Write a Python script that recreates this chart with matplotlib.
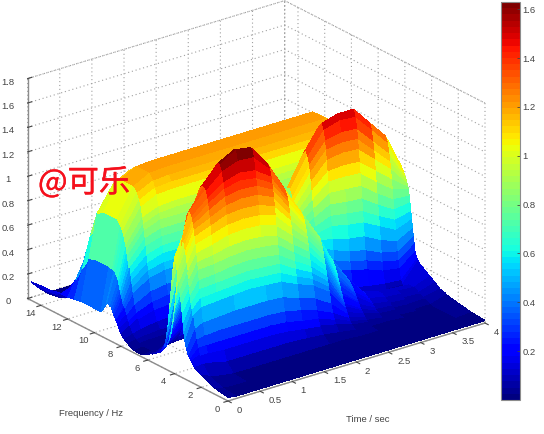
import matplotlib
matplotlib.use("Agg")
import matplotlib.pyplot as plt
import matplotlib.patheffects as pe
import numpy as np
from matplotlib.cm import ScalarMappable
from matplotlib.colors import Normalize
from mpl_toolkits.mplot3d import proj3d

# values
time_s = [0, .125, .25, .5, .75, 1, 1.25, 1.5, 1.75, 2, 2.25, 2.5, 2.75, 3, 3.25, 3.5, 3.75, 4]
freq_hz = [0, 1, 2, 2.5,
           2.75, 2.875, 3, 3.125,
           3.25, 3.3125, 3.375, 3.4375, 3.5, 3.5625, 3.625, 3.6875, 3.75, 3.8125, 3.875, 3.9375, 4,
           4.125, 4.25, 4.375, 4.5, 4.625, 4.75, 4.875, 5, 5.125,
           5.25, 5.3125, 5.375, 5.4375, 5.5, 5.5625, 5.625, 5.6875, 5.75, 5.8125, 5.875, 5.9375, 6,
           6.125, 6.25, 6.375, 6.5, 6.625, 6.75,
           7, 7.25, 7.5, 7.75,
           8, 8.125, 8.25,
           8.375, 8.4375, 8.5, 8.5625, 8.625, 8.6875, 8.75, 8.8125, 8.875,
           9, 9.125, 9.25,
           9.5, 10.5, 11, 11.5, 12, 12.5, 13, 13.5, 14, 14.75]
# one row per time value, one column per frequency value
amplitude = [
    [.03, .05, .10, .13, .17, .19, .21, .26,
     .32, .39, .46, .53, .60, .66, .72, .77, .82, .86, .90, .93, .95,
     .84, .68, .51, .36, .26, .18, .15, .13, .11,
     .10, .10, .09, .09, .08, .08, .07, .07, .07, .06, .06, .05, .05,
     .04, .03, .02, .02, .02, .02, .02, .03, .05, .07, .10, .13, .16,
     .19, .20, .22, .23, .25, .26, .28, .28, .29,
     .30, .28, .25, .20, .20, .20, .19, .18, .18, .17, .16, .16, .15],
    [.02, .03, .07, .14, .20, .26, .32, .40,
     .50, .55, .60, .66, .72, .78, .85, .91, .97, 1.01, 1.05, 1.08, 1.10,
     1.02, .92, .76, .60, .46, .34, .26, .20, .16,
     .13, .12, .11, .10, .09, .08, .07, .06, .06, .05, .05, .05, .05,
     .04, .03, .03, .03, .03, .03, .03, .04, .06, .09, .14, .18, .22,
     .26, .29, .32, .35, .38, .41, .44, .47, .49,
     .52, .54, .54, .55, .55, .53, .42, .30, .20, .13, .10, .09, .08],
    [.02, .02, .05, .13, .20, .26, .33, .43,
     .55, .62, .69, .76, .84, .90, .97, 1.04, 1.10, 1.15, 1.19, 1.22, 1.25,
     1.27, 1.25, 1.18, 1.10, .99, .88, .75, .63, .51,
     .41, .36, .32, .28, .24, .21, .18, .15, .13, .11, .10, .08, .07,
     .05, .04, .03, .03, .03, .03, .04, .05, .07, .11, .18, .23, .29,
     .37, .42, .47, .52, .57, .62, .67, .71, .75,
     .81, .85, .88, .92, .92, .88, .67, .43, .22, .09, .05, .03, .02],
    [.02, .02, .03, .10, .19, .26, .34, .44,
     .56, .63, .70, .77, .85, .92, 1.00, 1.08, 1.15, 1.21, 1.27, 1.32, 1.36,
     1.41, 1.43, 1.43, 1.41, 1.34, 1.25, 1.13, 1.00, .85,
     .71, .64, .58, .52, .46, .41, .36, .31, .27, .23, .20, .17, .15,
     .11, .08, .06, .04, .04, .04, .04, .05, .08, .13, .22, .28, .36,
     .46, .52, .58, .64, .71, .77, .83, .88, .93,
     1.01, 1.06, 1.10, 1.14, 1.14, 1.08, .83, .52, .27, .11, .05, .03, .02],
    [.02, .02, .03, .10, .19, .26, .34, .45,
     .57, .64, .71, .79, .87, .95, 1.04, 1.12, 1.20, 1.27, 1.34, 1.40, 1.45,
     1.53, 1.57, 1.58, 1.55, 1.47, 1.37, 1.24, 1.09, .93,
     .78, .70, .63, .56, .50, .44, .38, .33, .29, .25, .22, .19, .16,
     .12, .08, .06, .05, .04, .04, .04, .06, .08, .14, .23, .30, .38,
     .49, .55, .62, .68, .75, .81, .88, .93, .98,
     1.07, 1.12, 1.16, 1.21, 1.21, 1.15, .88, .56, .28, .12, .06, .03, .02],
    [.02, .02, .03, .10, .19, .26, .34, .45,
     .58, .65, .72, .80, .88, .96, 1.05, 1.13, 1.21, 1.29, 1.36, 1.43, 1.49,
     1.58, 1.65, 1.65, 1.63, 1.55, 1.44, 1.30, 1.15, .99,
     .82, .74, .67, .60, .53, .47, .41, .36, .31, .27, .23, .20, .17,
     .13, .09, .07, .05, .04, .04, .04, .06, .08, .14, .24, .30, .38,
     .49, .55, .62, .68, .75, .81, .88, .94, .99,
     1.08, 1.13, 1.17, 1.22, 1.22, 1.16, .88, .56, .28, .12, .06, .03, .02],
    [.02, .02, .03, .10, .19, .26, .34, .45,
     .57, .64, .71, .79, .87, .95, 1.04, 1.12, 1.20, 1.28, 1.35, 1.41, 1.47,
     1.57, 1.63, 1.63, 1.61, 1.53, 1.42, 1.28, 1.13, .97,
     .81, .73, .66, .59, .52, .46, .40, .35, .30, .26, .22, .19, .16,
     .12, .08, .06, .05, .04, .04, .04, .06, .08, .14, .24, .30, .38,
     .49, .55, .62, .68, .75, .81, .88, .94, .99,
     1.08, 1.13, 1.17, 1.22, 1.22, 1.16, .88, .56, .28, .12, .06, .03, .02],
    [.02, .02, .03, .10, .18, .25, .33, .44,
     .56, .63, .70, .77, .85, .92, 1.00, 1.08, 1.15, 1.22, 1.28, 1.33, 1.38,
     1.44, 1.46, 1.46, 1.44, 1.37, 1.28, 1.16, 1.03, .89,
     .75, .69, .63, .57, .51, .46, .42, .38, .34, .31, .29, .26, .24,
     .21, .18, .16, .14, .13, .12, .11, .10, .11, .16, .25, .31, .39,
     .50, .56, .62, .68, .75, .81, .88, .94, .99,
     1.08, 1.13, 1.17, 1.22, 1.22, 1.16, .88, .56, .28, .12, .06, .03, .02],
    [.02, .02, .03, .09, .16, .22, .30, .39,
     .50, .56, .62, .68, .75, .81, .88, .94, 1.00, 1.05, 1.10, 1.14, 1.17,
     1.21, 1.23, 1.23, 1.22, 1.16, 1.09, .99, .88, .77,
     .67, .63, .59, .55, .52, .49, .47, .45, .43, .42, .42, .41, .41,
     .39, .37, .35, .33, .30, .28, .24, .19, .17, .19, .26, .32, .39,
     .50, .56, .63, .69, .76, .82, .89, .94, .99,
     1.08, 1.13, 1.17, 1.22, 1.22, 1.16, .88, .56, .28, .12, .06, .03, .02],
    [.02, .02, .03, .08, .14, .20, .26, .35,
     .45, .50, .55, .60, .65, .71, .76, .81, .85, .89, .92, .95, .97,
     .99, .99, .99, .98, .94, .88, .81, .74, .68,
     .62, .60, .59, .58, .58, .58, .59, .60, .62, .64, .66, .68, .69,
     .71, .71, .69, .66, .62, .57, .46, .33, .27, .25, .30, .34, .40,
     .50, .56, .63, .69, .76, .82, .89, .94, .99,
     1.08, 1.13, 1.17, 1.22, 1.22, 1.16, .88, .56, .28, .12, .06, .03, .02],
    [.02, .02, .03, .06, .11, .15, .20, .27,
     .36, .40, .44, .48, .52, .56, .60, .64, .68, .71, .73, .75, .76,
     .77, .77, .77, .76, .73, .69, .65, .61, .59,
     .58, .59, .61, .63, .65, .68, .72, .76, .81, .85, .90, .95, .99,
     1.03, 1.05, 1.03, .98, .92, .85, .69, .51, .38, .31, .33, .37, .42,
     .52, .58, .64, .70, .77, .83, .90, .95, 1.00,
     1.08, 1.13, 1.17, 1.22, 1.22, 1.16, .88, .56, .28, .12, .06, .03, .02],
    [.02, .02, .02, .04, .07, .09, .12, .15,
     .19, .21, .23, .25, .28, .30, .33, .35, .38, .40, .43, .45, .47,
     .50, .52, .52, .52, .50, .48, .47, .46, .47,
     .50, .53, .57, .61, .66, .72, .79, .86, .93, 1.00, 1.07, 1.14, 1.20,
     1.26, 1.29, 1.27, 1.22, 1.14, 1.05, .85, .61, .45, .36, .36, .39, .44,
     .53, .59, .65, .71, .78, .84, .90, .95, 1.00,
     1.08, 1.13, 1.17, 1.22, 1.22, 1.16, .88, .56, .28, .12, .06, .03, .02],
    [.02, .02, .02, .03, .05, .06, .08, .10,
     .12, .13, .15, .16, .18, .19, .21, .22, .24, .25, .27, .28, .29,
     .31, .32, .33, .33, .31, .27, .24, .22, .25,
     .35, .42, .50, .59, .69, .77, .86, .95, 1.04, 1.12, 1.21, 1.29, 1.36,
     1.44, 1.48, 1.46, 1.40, 1.32, 1.22, .96, .70, .51, .39, .37, .40, .44,
     .53, .59, .65, .71, .78, .84, .90, .95, 1.00,
     1.08, 1.13, 1.17, 1.22, 1.22, 1.16, .88, .56, .28, .12, .06, .03, .02],
    [.02, .02, .02, .03, .04, .04, .05, .06,
     .07, .07, .08, .09, .10, .10, .11, .12, .13, .13, .14, .14, .15,
     .16, .17, .17, .17, .15, .12, .10, .11, .17,
     .30, .37, .45, .55, .66, .75, .84, .94, 1.04, 1.13, 1.23, 1.31, 1.39,
     1.48, 1.52, 1.50, 1.45, 1.36, 1.26, 1.00, .73, .52, .40, .37, .40, .45,
     .54, .59, .65, .71, .78, .84, .90, .95, 1.00,
     1.08, 1.13, 1.17, 1.22, 1.22, 1.16, .88, .56, .28, .12, .06, .03, .02],
    [.02, .02, .02, .02, .03, .03, .04, .05,
     .06, .06, .07, .07, .08, .08, .09, .09, .10, .10, .11, .11, .12,
     .13, .13, .13, .13, .11, .08, .07, .08, .14,
     .27, .34, .42, .53, .64, .73, .83, .93, 1.03, 1.12, 1.22, 1.30, 1.38,
     1.47, 1.52, 1.50, 1.45, 1.36, 1.26, 1.00, .73, .52, .40, .37, .40, .45,
     .54, .59, .65, .71, .78, .84, .90, .95, 1.00,
     1.08, 1.13, 1.17, 1.22, 1.22, 1.16, .88, .56, .28, .12, .06, .03, .02],
    [.02, .02, .02, .02, .02, .03, .03, .04,
     .05, .05, .06, .06, .07, .07, .08, .08, .09, .09, .10, .10, .10,
     .11, .11, .11, .11, .09, .07, .06, .07, .12,
     .22, .29, .36, .46, .57, .65, .74, .83, .92, 1.01, 1.10, 1.17, 1.24,
     1.33, 1.37, 1.35, 1.31, 1.23, 1.14, .91, .67, .48, .37, .36, .39, .44,
     .53, .59, .65, .71, .78, .84, .90, .95, 1.00,
     1.08, 1.13, 1.17, 1.22, 1.22, 1.16, .88, .56, .28, .12, .06, .03, .02],
    [.02, .02, .02, .02, .02, .03, .03, .04,
     .05, .05, .06, .06, .06, .06, .07, .07, .08, .08, .09, .09, .09,
     .10, .10, .10, .10, .08, .06, .06, .07, .11,
     .20, .26, .33, .41, .50, .58, .66, .74, .82, .90, .98, 1.04, 1.10,
     1.18, 1.22, 1.20, 1.16, 1.09, 1.02, .81, .60, .43, .34, .33, .36, .40,
     .49, .54, .60, .66, .72, .77, .83, .88, .92,
     .99, 1.04, 1.08, 1.12, 1.12, 1.07, .81, .52, .26, .11, .05, .03, .02],
    [.02, .03, .05, .06, .07, .07, .08, .08,
     .09, .09, .09, .10, .10, .11, .11, .12, .12, .13, .13, .14, .15,
     .15, .16, .17, .18, .19, .20, .21, .23, .25,
     .30, .36, .42, .48, .55, .61, .68, .73, .78, .80, .83, .85, .87,
     .90, .93, .92, .90, .84, .78, .62, .46, .32, .28, .28, .31, .34,
     .42, .47, .52, .57, .63, .68, .74, .79, .83,
     .90, .94, .98, 1.02, 1.02, .97, .74, .47, .24, .10, .05, .03, .02],
]

time_ticks = [0, .5, 1, 1.5, 2, 2.5, 3, 3.5, 4]
time_labels = ['0', '0.5', '1', '1.5', '2', '2.5', '3', '3.5', '4']
freq_ticks = [0, 2, 4, 6, 8, 10, 12, 14]
freq_labels = ['0', '2', '4', '6', '8', '10', '12', '14']
z_ticks = [0, .2, .4, .6, .8, 1, 1.2, 1.4, 1.6, 1.8]
z_labels = ['0', '0.2', '0.4', '0.6', '0.8', '1', '1.2', '1.4', '1.6', '1.8']
bar_ticks = [.2, .4, .6, .8, 1, 1.2, 1.4, 1.6]
bar_labels = ['0.2', '0.4', '0.6', '0.8', '1', '1.2', '1.4', '1.6']

plt.rcParams['font.family'] = ['Liberation Sans', 'DejaVu Sans']
text_color = '#444444'
axis_color = '#8c8c8c'
grid_color = '#a0a0a0'
dotted = (0, (1, 2.5))

fig = plt.figure(figsize=(5.44, 4.34), dpi=100)
ax = fig.add_axes([0, 0, 1, 1], projection='3d', proj_type='ortho')
ax.view_init(elev=23.2, azim=-127.6)
ax.set_box_aspect((324, 328, 239))
ax.patch.set_alpha(0)

T, F = np.meshgrid(time_s, freq_hz, indexing='ij')
Z = np.array(amplitude)
cmap = plt.get_cmap('jet', 64)
norm = Normalize(0, 1.63)
ax.plot_surface(T, F, Z, rstride=1, cstride=1, cmap=cmap, norm=norm, linewidth=0,
                edgecolor='none', antialiased=False, shade=False)

ax.set_xlim(0, 4, view_margin=0)
ax.set_ylim(0, 15, view_margin=0)
ax.set_zlim(0, 1.8, view_margin=0)
ax.set_xticks(time_ticks, time_labels)
ax.set_yticks(freq_ticks, freq_labels)
ax.set_zticks(z_ticks, z_labels)
ax.tick_params(labelsize=6.8, colors=text_color, pad=0)
for lab in ax.get_xticklabels():
    lab.set_va('bottom')
    lab.set_ha('left')
for lab in ax.get_yticklabels():
    lab.set_va('bottom')

for axis in (ax.xaxis, ax.yaxis, ax.zaxis):
    axis.set_pane_color((1, 1, 1, 1))
    axis.pane.set_edgecolor(grid_color)
    axis.pane.set_linestyle(dotted)
    axis.pane.set_linewidth(.8)
    axis.line.set_color(axis_color)
    axis.line.set_linewidth(1.0)
    axis._axinfo['grid'].update(color=grid_color, linestyle=dotted, linewidth=.8)
    axis._axinfo['tick'].update(color=axis_color, inward_factor=.2, outward_factor=0)
ax.zaxis._axinfo['tick'].update(inward_factor=0, outward_factor=.2)

# fit the box onto the corners seen in the reference (pixels from the top left)
fig.canvas.draw()
def corner_px(x, y, z):
    px, py, _ = proj3d.proj_transform(x, y, z, ax.get_proj())
    return ax.transData.transform((px, py))
front = corner_px(0, 0, 0)
right = corner_px(4, 0, 0)
scale = 257 / (right[0] - front[0])
w, h = fig.get_size_inches() * fig.dpi
ax.set_position([(228 - front[0] * scale) / w, (434 - 401 - front[1] * scale) / h, scale, scale])

cax = fig.add_axes([501 / 544, 1 - 400 / 434, 19 / 544, 398 / 434])
cbar = fig.colorbar(ScalarMappable(norm=norm, cmap=cmap), cax=cax)
cbar.set_ticks(bar_ticks, labels=bar_labels)
cbar.ax.tick_params(labelsize=6.8, colors=text_color, length=2.5, width=.6, direction='in', pad=2)
cbar.outline.set_edgecolor(axis_color)
cbar.outline.set_linewidth(.8)

fig.text(91 / 544, 1 - 413 / 434, 'Frequency / Hz', fontsize=6.8, color=text_color, ha='center', va='center')
fig.text(368 / 544, 1 - 419 / 434, 'Time / sec', fontsize=6.8, color=text_color, ha='center', va='center')
mark = fig.text(38 / 544, 1 - 183 / 434, '@可乐', fontsize=22.5, color='#f5101c', ha='left', va='center',
                family=['Noto Sans CJK SC', 'DejaVu Sans'])
mark.set_path_effects([pe.withStroke(linewidth=.25, foreground='#f5101c')])

fig.savefig('out.png', dpi=100)
